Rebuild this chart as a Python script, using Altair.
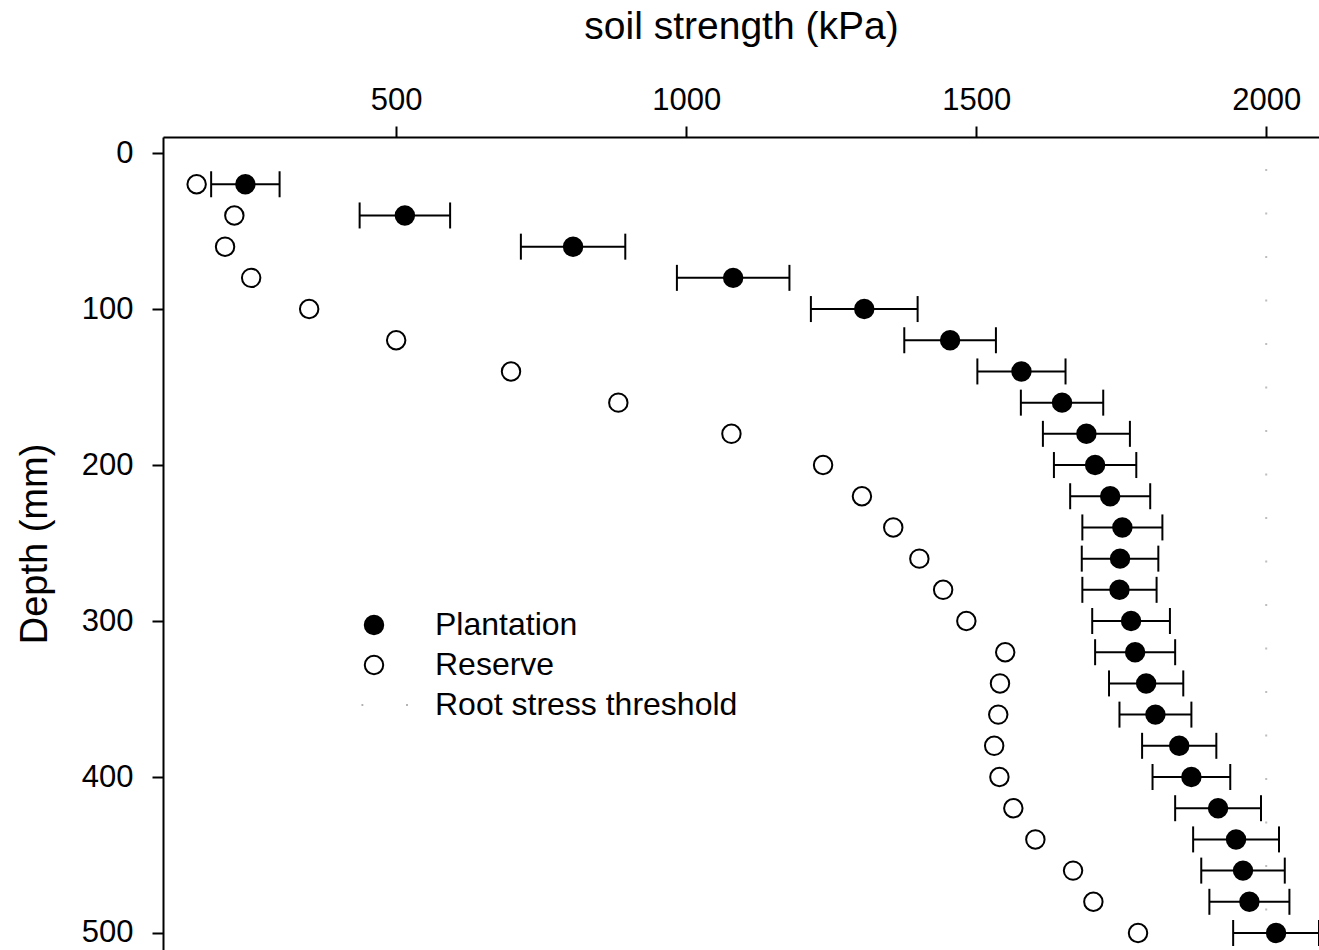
import altair as alt
import pandas as pd

depth = [20, 40, 60, 80, 100, 120, 140, 160, 180, 200, 220, 240, 260, 280, 300,
         320, 340, 360, 380, 400, 420, 440, 460, 480, 500]
plantation = [240, 515, 805, 1081, 1307, 1455, 1578, 1648, 1690, 1705, 1731, 1752, 1748, 1747, 1767,
              1774, 1793, 1809, 1850, 1871, 1917, 1948, 1960, 1971, 2017]
plantation_err = [59, 78, 90, 97, 92, 79, 76, 71, 75, 71, 69, 69, 66, 64, 67,
                  69, 64, 62, 64, 67, 74, 74, 72, 69, 74]
reserve = [156, 221, 205, 250, 350, 500, 698, 883, 1078, 1236, 1303, 1357, 1402, 1443, 1483,
           1550, 1541, 1538, 1531, 1540, 1564, 1602, 1667, 1702, 1779]
threshold = [2000]
series_names = ["Plantation", "Reserve", "Root stress threshold"]
x_ticks = [500, 1000, 1500, 2000]
y_ticks = [0, 100, 200, 300, 400, 500]

FONT = "Liberation Sans"

pl = pd.DataFrame({"depth": depth, "value": plantation, "err": plantation_err})
pl["lo"] = pl["value"] - pl["err"]
pl["hi"] = pl["value"] + pl["err"]
pl["series"] = "Plantation"
rs = pd.DataFrame({"depth": depth, "value": reserve, "series": "Reserve"})
pts = pd.concat([rs, pl[["depth", "value", "series"]]], ignore_index=True)
th = pd.DataFrame({"value": threshold})

xscale = alt.Scale(domain=[98, 2091], nice=False, zero=False)
yscale = alt.Scale(domain=[-10.3, 510.9], nice=False, zero=False, reverse=True)

xaxis = alt.Axis(orient="top", values=x_ticks, format="d", title="soil strength (kPa)", grid=False,
                 domainColor="black", domainWidth=2, tickColor="black", tickWidth=2, tickSize=11,
                 labelFontSize=31, labelFont=FONT, labelColor="black", labelPadding=10,
                 titleFontSize=39, titleFont=FONT, titleFontWeight="normal", titleColor="black",
                 titlePadding=38)
yaxis = alt.Axis(values=y_ticks, format="d", title="Depth (mm)", grid=False,
                 domainColor="black", domainWidth=2, tickColor="black", tickWidth=2, tickSize=11,
                 labelFontSize=31, labelFont=FONT, labelColor="black", labelPadding=19,
                 titleFontSize=38, titleFont=FONT, titleFontWeight="normal", titleColor="black",
                 titlePadding=27)

x = alt.X("value:Q", scale=xscale, axis=xaxis)
y = alt.Y("depth:Q", scale=yscale, axis=yaxis)

thr_rule = alt.Chart(th).mark_rule(color="#bdbdbd", strokeWidth=2, strokeDash=[2, 41.5],
                                   strokeDashOffset=11.5, clip=True).encode(
    x=alt.X("value:Q", scale=xscale))

bars = alt.Chart(pl).mark_rule(color="black", strokeWidth=2, clip=True).encode(
    x=alt.X("lo:Q", scale=xscale), x2="hi:Q", y=alt.Y("depth:Q", scale=yscale))
cap_lo = alt.Chart(pl).mark_tick(color="black", thickness=2, size=26, orient="vertical", opacity=1, clip=True).encode(
    x=alt.X("lo:Q", scale=xscale), y=alt.Y("depth:Q", scale=yscale))
cap_hi = alt.Chart(pl).mark_tick(color="black", thickness=2, size=26, orient="vertical", opacity=1, clip=True).encode(
    x=alt.X("hi:Q", scale=xscale), y=alt.Y("depth:Q", scale=yscale))

legend = alt.Legend(title=None, orient="none", legendX=195, legendY=472,
                    labelFontSize=32, labelFont=FONT, labelColor="black", labelLimit=0,
                    symbolSize=340, symbolStrokeWidth=2, labelOffset=45, rowPadding=8,
                    padding=0)
line_sym = "M-1.36,0L-1.16,0M3.48,0L3.68,0"
points = alt.Chart(pts).mark_point(size=340, strokeWidth=2, opacity=1, filled=False, clip=True).encode(
    x=x, y=y,
    shape=alt.Shape("series:N", scale=alt.Scale(domain=series_names, range=["circle", "circle", line_sym]), legend=legend),
    fill=alt.Fill("series:N", scale=alt.Scale(domain=series_names, range=["black", "white", "transparent"]), legend=legend),
    stroke=alt.Stroke("series:N", scale=alt.Scale(domain=series_names, range=["black", "black", "#b0b0b0"]), legend=legend),
)

chart = alt.layer(thr_rule, bars, cap_lo, cap_hi, points).properties(
    width=1156, height=813,
    autosize=alt.AutoSizeParams(type="none"),
    padding={"left": 163, "top": 137, "right": 0, "bottom": 0},
).configure_view(stroke=None).configure(background="white")

chart.save("out.html", embed_options={"renderer": "svg", "actions": False})
